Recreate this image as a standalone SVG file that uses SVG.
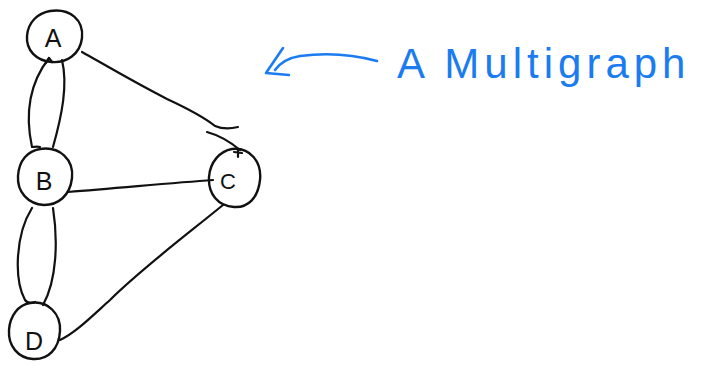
<svg xmlns="http://www.w3.org/2000/svg" width="708" height="369" viewBox="0 0 708 369">
<style>
.node{fill:none;stroke:#111;stroke-width:2.4;stroke-linecap:round;stroke-linejoin:round}
.lbl{font-family:"Liberation Sans",Arial,sans-serif;font-size:25px;fill:#111;text-anchor:middle}
.edge{fill:none;stroke:#111;stroke-width:2.2;stroke-linecap:round;stroke-linejoin:round}
.blue{fill:none;stroke:#1a7cf0;stroke-width:2.6;stroke-linecap:round;stroke-linejoin:round}
.title{font-family:"Liberation Sans",Arial,sans-serif;font-size:42px;fill:#1a7cf0;letter-spacing:5px}
</style>
<rect width="708" height="369" fill="#fff"/>
<g id="edges">
<path class="edge" d="M82,52 C100,62 130,80 167,99 C195,112 205,118 215,126 C222,129 230,129 238,127"/>
<path class="edge" d="M207,132 C218,135 228,140 240,150"/>
<path class="edge" d="M49,58 C32,80 24,110 32,147 C34,147 37,146 40,147"/>
<path class="edge" d="M46,63 L49,58 L52,62"/>
<path class="edge" d="M62,60 C68,85 62,115 53,147"/>
<path class="edge" d="M68,192 C120,188 170,183 213,180"/>
<path class="edge" d="M32,208 C15,235 14,280 25,300 C28,304 32,303 35,302"/>
<path class="edge" d="M53,208 C58,240 57,280 43,305"/>
<path class="edge" d="M223,205 C180,240 140,270 110,300 C90,318 75,333 60,340"/>
</g>
<g id="A">
<path class="node" d="M50,11 C70,8 84,20 82,38 C80,55 66,63 52,62 C36,61 26,50 27,36 C28,22 38,13 50,11 Z"/>
<text class="lbl" x="53" y="47">A</text>
</g>
<g id="B">
<path class="node" d="M40,149 C60,146 74,160 72,178 C70,196 58,205 44,205 C28,204 17,192 18,176 C19,160 28,151 40,149 Z"/>
<text class="lbl" x="44" y="190">B</text>
</g>
<g id="C">
<path class="node" d="M232,149 C250,147 262,162 260,180 C258,198 248,208 234,207 C218,206 208,194 209,177 C210,162 220,151 232,149 Z"/>
<path class="edge" d="M234,152 L242,153 M238,150 L238,157"/>
<text class="lbl" x="228" y="189" style="font-size:22px">C</text>
</g>
<g id="D">
<path class="node" d="M30,303 C48,300 61,314 60,331 C59,349 48,360 33,359 C18,358 8,346 9,330 C10,316 18,305 30,303 Z"/>
<text class="lbl" x="34" y="350">D</text>
</g>
<g id="label">
<path class="blue" d="M377,61 C355,55 330,52 300,56 C288,58 280,63 275,70"/>
<path class="blue" d="M283,48 L266,73 L289,75"/>
<text class="title" x="397" y="78">A Multigraph</text>
</g>
</svg>
